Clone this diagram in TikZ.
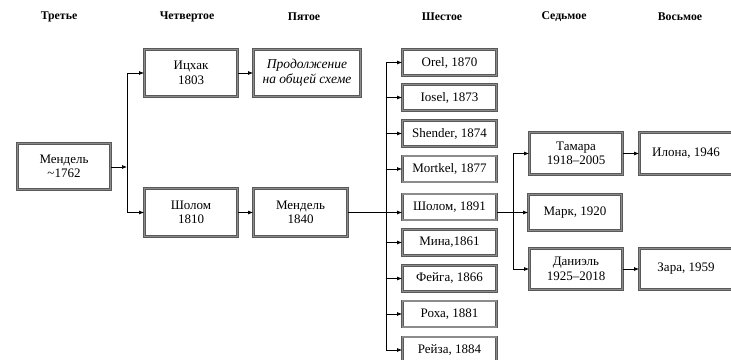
\documentclass[tikz,border=0pt]{standalone}
\usepackage{fontspec}
\setmainfont{Liberation Serif}
\usetikzlibrary{arrows.meta}
\begin{document}
\begin{tikzpicture}[x=1pt,y=-1pt,
  box/.style={draw=black!65, line width=0.9pt, double=black!45, double distance=1.1pt,
    fill=white, inner sep=1pt, align=center, font=\fontsize{13}{14.5}\selectfont},
  hdr/.style={font=\fontsize{11.8}{13}\selectfont\bfseries},
  conn/.style={draw=black, line width=0.7pt},
  arr/.style={conn, -{Latex[length=5pt,width=4pt]}}]
\useasboundingbox (0,0) rectangle (731,359);
\clip (0,0) rectangle (731,359);
\fill[white] (0,0) rectangle (731,359);
% headers
\node[hdr] (h3) at (59,17) {Третье};
\node[hdr] (h4) at (187,17) {Четвертое};
\node[hdr] (h5) at (304,17) {Пятое};
\node[hdr] (h6) at (442,17) {Шестое};
\node[hdr] (h7) at (564,17) {Седьмое};
\node[hdr] (h8) at (680,17) {Восьмое};
% column 3-5
\node[box, minimum width=93, minimum height=46] (m1) at (64,166.5) {Мендель\\\textasciitilde1762};
\node[box, minimum width=93, minimum height=47] (ic) at (191,73) {Ицхак\\1803};
\node[box, minimum width=107, minimum height=47, font=\fontsize{13.5}{15}\selectfont\itshape] (cont) at (307,73) {Продолжение\\на общей схеме};
\node[box, minimum width=93, minimum height=48] (sh) at (191,212.5) {Шолом\\1810};
\node[box, minimum width=94, minimum height=48] (m2) at (300.5,212.5) {Мендель\\1840};
% column 6
\begin{scope}[every node/.style={box, minimum width=94, minimum height=26}]
\node (c1) at (449.5,62.5) {Orel, 1870};
\node (c2) at (449.5,97.5) {Iosel, 1873};
\node (c3) at (449.5,133.5) {Shender, 1874};
\node (c4) at (449.5,169) {Mortkel, 1877};
\node (c5) at (449.5,207) {Шолом, 1891};
\node (c6) at (449.5,242.5) {Мина,1861};
\node (c7) at (449.5,278.5) {Фейга, 1866};
\node (c8) at (449.5,314) {Роха, 1881};
\node (c9) at (449.5,350) {Рейза, 1884};
\end{scope}
% column 7-8
\node[box, minimum width=93, minimum height=42] (tam) at (576,153.5) {Тамара\\1918–2005};
\node[box, minimum width=93, minimum height=36] (mar) at (575,212.5) {Марк, 1920};
\node[box, minimum width=93, minimum height=41] (dan) at (576,269) {Даниэль\\1925–2018};
\node[box, minimum width=93, minimum height=42] (ilo) at (686,153.5) {Илона, 1946};
\node[box, minimum width=93, minimum height=41] (zar) at (686,269) {Зара, 1959};
% trunks
\coordinate (t1) at (127,0);
\coordinate (t2) at (386,0);
\coordinate (t3) at (513,0);
% connectors gen 3 -> 4
\draw[arr] (m1.east |- 0,167) -- (t1 |- 0,167);
\draw[conn] (t1 |- ic) -- (t1 |- sh);
\draw[arr] (t1 |- ic) -- (ic.west);
\draw[arr] (t1 |- sh) -- (sh.west);
\draw[arr] (ic) -- (cont);
\draw[arr] (sh) -- (m2);
% gen 5 -> 6
\draw[conn] (t2 |- c1) -- (t2 |- c9);
\draw[arr] (m2.east) -- (c5.west |- m2);
\foreach \n in {c1,c2,c3,c4,c6,c7,c8,c9}{\draw[arr] (t2 |- \n) -- (\n.west);}
% gen 6 -> 7
\draw[arr] (c5.east |- mar) -- (mar.west);
\draw[conn] (t3 |- tam) -- (t3 |- dan);
\draw[arr] (t3 |- tam) -- (tam.west);
\draw[arr] (t3 |- dan) -- (dan.west);
\draw[arr] (tam) -- (ilo);
\draw[arr] (dan) -- (zar);
\end{tikzpicture}
\end{document}
